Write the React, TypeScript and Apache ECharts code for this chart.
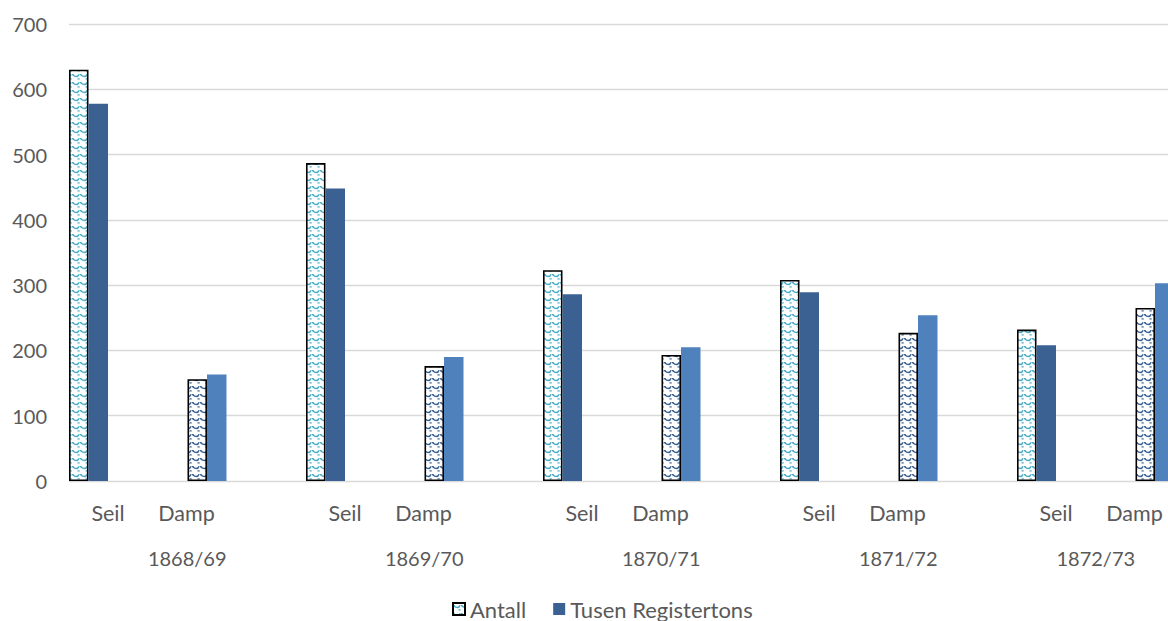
import React, { useEffect, useRef } from "react";
import * as echarts from "echarts";

const categories = ["Seil", "Damp", "Seil", "Damp", "Seil", "Damp", "Seil", "Damp", "Seil", "Damp"];
const years = ["1868/69", "1869/70", "1870/71", "1871/72", "1872/73"];
const antall = [630, 156, 487, 176, 323, 193, 308, 227, 232, 265];
const tusenRegistertons = [578, 163, 448, 190, 286, 205, 289, 254, 208, 303];
const yTicks = [0, 100, 200, 300, 400, 500, 600, 700];

const FONT = "Lato, 'Open Sans', sans-serif";
const TEXT = "#595959";

function makeTile(color: string): string {
  const c = document.createElement("canvas");
  c.width = 8;
  c.height = 8;
  const ctx = c.getContext("2d")!;
  ctx.fillStyle = "#ffffff";
  ctx.fillRect(0, 0, 8, 8);
  ctx.strokeStyle = color;
  ctx.fillStyle = color;
  ctx.lineWidth = 1.4;
  ctx.beginPath();
  ctx.arc(4, 1, 3.4, 0.12 * Math.PI, 0.88 * Math.PI);
  ctx.stroke();
  ctx.fillRect(0, 2, 1.3, 1.3);
  ctx.fillRect(5.5, 6.3, 2.2, 1.2);
  return c.toDataURL();
}

export default function App() {
  const ref = useRef<HTMLDivElement>(null);
  useEffect(() => {
    if (!ref.current) return;
    const chart = echarts.init(ref.current, undefined, { renderer: "svg" });
    const teal = { image: makeTile("#4BACC6"), repeat: "repeat", imageWidth: 8, imageHeight: 8 } as any;
    const navy = { image: makeTile("#3A6192"), repeat: "repeat", imageWidth: 8, imageHeight: 8 } as any;

    const antallData = antall.map((v, i) => ({
      value: v,
      itemStyle: { color: i % 2 === 0 ? teal : navy },
    }));
    const tusenData = tusenRegistertons.map((v, i) => ({
      value: v,
      itemStyle: { color: i % 2 === 0 ? "#3A6192" : "#4F81BD" },
    }));

    chart.setOption({
      animation: false,
      backgroundColor: "#ffffff",
      textStyle: { fontFamily: FONT },
      grid: [
        { left: 29.25, width: 1185, top: 24, height: 457, outerBoundsMode: "none", containLabel: false },
        { left: 69, width: 1099, top: 24, height: 457, outerBoundsMode: "none", containLabel: false },
      ],
      legend: {
        left: 447,
        top: 593,
        itemWidth: 12,
        itemHeight: 12,
        itemGap: 27,
        icon: "rect",
        textStyle: { fontFamily: FONT, fontSize: 22, color: TEXT },
        data: ["Antall", "Tusen Registertons"],
      },
      xAxis: [
        {
          type: "category",
          gridIndex: 0,
          data: categories,
          axisLine: { show: false },
          axisTick: { show: false },
          axisLabel: {
            margin: 21,
            interval: 0,
            fontFamily: FONT,
            fontSize: 21.5,
            color: TEXT,
            formatter: (v: string) => (v === "Seil" ? "{s|" + v + "}" : "{d|" + v + "}"),
            rich: {
              s: { padding: [0, 0, 0, 39], fontFamily: FONT, fontSize: 21.5, color: TEXT },
              d: { padding: [0, 41, 0, 0], fontFamily: FONT, fontSize: 21.5, color: TEXT },
            },
          },
        },
        {
          type: "category",
          gridIndex: 0,
          position: "bottom",
          offset: 46,
          data: years,
          axisLine: { show: false },
          axisTick: { show: false },
          axisLabel: {
            margin: 21,
            interval: 0,
            fontFamily: FONT,
            fontSize: 20,
            color: TEXT,
            formatter: (v: string, i: number) => (i < 4 ? "{y|" + v + "}" : v),
            rich: {
              y: { padding: [0, 0, 0, 79], fontFamily: FONT, fontSize: 20, color: TEXT },
            },
          },
        },
        { type: "value", gridIndex: 1, show: false, min: 0, max: 1 },
      ],
      yAxis: [
        {
          type: "value",
          gridIndex: 1,
          min: yTicks[0],
          max: yTicks[yTicks.length - 1],
          interval: 100,
          axisLine: { show: false },
          axisTick: { show: false },
          axisLabel: { margin: 22, fontFamily: FONT, fontSize: 20, color: TEXT },
          splitLine: { lineStyle: { color: "#D9D9D9", width: 1.3 } },
        },
        {
          type: "value",
          gridIndex: 0,
          min: 0,
          max: 700,
          show: false,
          splitLine: { show: false },
        },
      ],
      series: [
        {
          name: "Antall",
          type: "bar",
          xAxisIndex: 0,
          yAxisIndex: 1,
          barWidth: 19.5,
          barGap: "0%",
          itemStyle: { color: teal, borderColor: "#000000", borderWidth: 1.6 },
          data: antallData,
        },
        {
          name: "Tusen Registertons",
          type: "bar",
          xAxisIndex: 0,
          yAxisIndex: 1,
          barWidth: 19.5,
          barGap: "0%",
          itemStyle: { color: "#3A6192" },
          data: tusenData,
        },
      ],
    });
    return () => chart.dispose();
  }, []);
  return <div ref={ref} style={{ width: 1168, height: 621, position: "fixed", left: 0, top: 0 }} />;
}
